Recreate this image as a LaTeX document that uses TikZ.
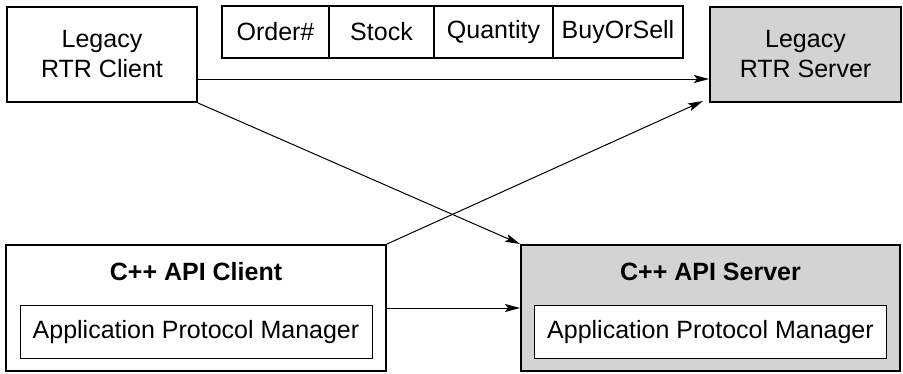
\documentclass[tikz,border=0pt]{standalone}
\usepackage{fontspec}
\setmainfont{Liberation Sans}
\usetikzlibrary{positioning,arrows.meta}
\definecolor{srv}{RGB}{211,211,211}
\newcommand{\fnt}{\fontsize{25}{30}\selectfont}

\begin{document}
\begin{tikzpicture}[x=1pt,y=-1pt,font=\fnt,
    bigbox/.style={draw,line width=2pt,inner sep=0pt,align=center},
    cell/.style={draw,line width=1.2pt,inner sep=0pt,outer sep=0pt,minimum height=52pt},
    apm/.style={draw,fill=white,line width=1pt,inner sep=0pt,minimum width=352pt,minimum height=53pt},
    arr/.style={line width=1pt,-{Stealth[length=15pt,width=8pt,inset=3pt]}}]
\useasboundingbox (0,0) rectangle (903,373);
% legacy boxes
\node[bigbox,minimum width=190pt,minimum height=95pt] (lclient) at (102,54.5) {Legacy\\RTR Client};
\node[bigbox,fill=srv,minimum width=191pt,minimum height=95pt] (lserver) at (805.5,54.5) {Legacy\\RTR Server};
% message layout
\node[cell,minimum width=107pt] (order) at (275.5,32) {Order\#};
\node[cell,minimum width=105pt,right=0pt of order] (stock) {Stock};
\node[cell,minimum width=119pt,right=0pt of stock] (qty) {Quantity};
\node[cell,minimum width=130pt,right=0pt of qty] (bos) {BuyOrSell};
% c++ api boxes
\node[bigbox,minimum width=380pt,minimum height=126pt] (cclient) at (196,308) {};
\node[font=\fnt\bfseries] (cclienttitle) at ([yshift=-28pt]cclient.north) {C++ API Client};
\node[apm,below=61pt of cclient.north] (cclientapm) {Application Protocol Manager};
\node[bigbox,fill=srv,minimum width=379pt,minimum height=126pt] (cserver) at (710.5,308) {};
\node[font=\fnt\bfseries] (cservertitle) at ([yshift=-28pt]cserver.north) {C++ API Server};
\node[apm,below=61pt of cserver.north] (cserverapm) {Application Protocol Manager};
% connections
\draw[arr] ([yshift=-24.5pt]lclient.east) -- ([yshift=-24.5pt]lserver.west);
\draw[arr] (lclient.south east) -- (cserver.north west);
\draw[arr] (cclient.north east) -- ([xshift=-6pt,yshift=2pt]lserver.south west);
\draw[arr] (cclient.east) -- (cserver.west);
\end{tikzpicture}
\end{document}
